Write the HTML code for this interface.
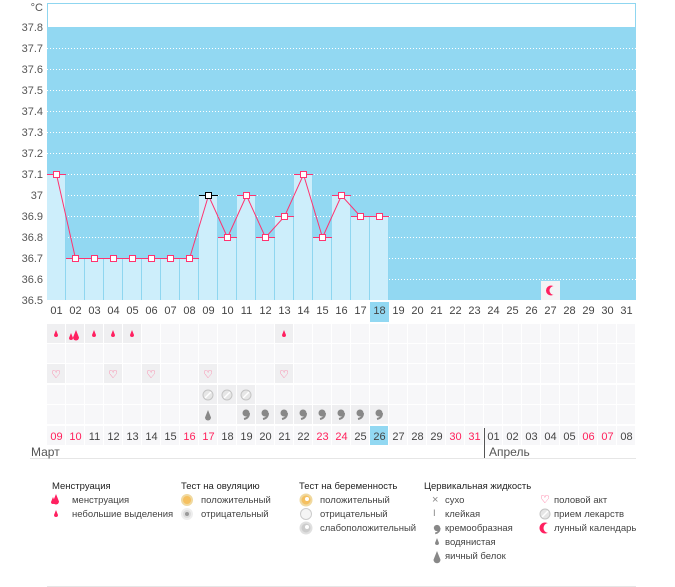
<!DOCTYPE html>
<html><head><meta charset="utf-8"><style>
body{margin:0;width:675px;height:587px;background:#fff;font-family:"Liberation Sans","DejaVu Sans",sans-serif;position:relative;overflow:hidden}
.yl{position:absolute;right:632px;font-size:11px;color:#555;text-align:right}
.row{position:absolute;left:47px;display:flex;font-size:11px;color:#444}
.row span{width:19px;text-align:center}
.r{color:#ff1f5a}
.t{position:absolute;font-size:9.5px;color:#444;white-space:nowrap;line-height:12px}
.h{color:#222}
</style></head><body>
<svg width="675" height="587" style="position:absolute;left:0;top:0" id="s">
<rect x="47.5" y="3.5" width="588" height="296" fill="#fff" stroke="#8fd6f0"/>
<rect x="47" y="27" width="589" height="273" fill="#92d8f2"/>
<g id="g"></g>
</svg>
<div class="yl" style="top:2px">°C</div>
<div class="yl" style="top:22px">37.8</div><div class="yl" style="top:43px">37.7</div><div class="yl" style="top:64px">37.6</div><div class="yl" style="top:85px">37.5</div><div class="yl" style="top:106px">37.4</div><div class="yl" style="top:127px">37.3</div><div class="yl" style="top:148px">37.2</div><div class="yl" style="top:169px">37.1</div><div class="yl" style="top:190px">37</div><div class="yl" style="top:211px">36.9</div><div class="yl" style="top:232px">36.8</div><div class="yl" style="top:253px">36.7</div><div class="yl" style="top:274px">36.6</div><div class="yl" style="top:295px">36.5</div>
<div class="row" style="top:305px"><span>01</span><span>02</span><span>03</span><span>04</span><span>05</span><span>06</span><span>07</span><span>08</span><span>09</span><span>10</span><span>11</span><span>12</span><span>13</span><span>14</span><span>15</span><span>16</span><span>17</span><span>18</span><span>19</span><span>20</span><span>21</span><span>22</span><span>23</span><span>24</span><span>25</span><span>26</span><span>27</span><span>28</span><span>29</span><span>30</span><span>31</span></div>
<div class="row" style="top:431px"><span class="r">09</span><span class="r">10</span><span>11</span><span>12</span><span>13</span><span>14</span><span>15</span><span class="r">16</span><span class="r">17</span><span>18</span><span>19</span><span>20</span><span>21</span><span>22</span><span class="r">23</span><span class="r">24</span><span>25</span><span>26</span><span>27</span><span>28</span><span>29</span><span class="r">30</span><span class="r">31</span><span>01</span><span>02</span><span>03</span><span>04</span><span>05</span><span class="r">06</span><span class="r">07</span><span>08</span></div>
<div style="position:absolute;left:31px;top:445px;font-size:12px;color:#555">Март</div>
<div style="position:absolute;left:489px;top:445px;font-size:12px;color:#555">Апрель</div>

<div class="t h" style="left:52px;top:481px">Менструация</div>
<div class="t" style="left:72px;top:495px">менструация</div>
<div class="t" style="left:72px;top:509px">небольшие выделения</div>
<div class="t h" style="left:181px;top:481px">Тест на овуляцию</div>
<div class="t" style="left:201px;top:495px">положительный</div>
<div class="t" style="left:201px;top:509px">отрицательный</div>
<div class="t h" style="left:299px;top:481px">Тест на беременность</div>
<div class="t" style="left:320px;top:495px">положительный</div>
<div class="t" style="left:320px;top:509px">отрицательный</div>
<div class="t" style="left:320px;top:523px">слабоположительный</div>
<div class="t h" style="left:424px;top:481px">Цервикальная жидкость</div>
<div class="t" style="left:445px;top:495px">сухо</div>
<div class="t" style="left:445px;top:509px">клейкая</div>
<div class="t" style="left:445px;top:523px">кремообразная</div>
<div class="t" style="left:445px;top:537px">водянистая</div>
<div class="t" style="left:445px;top:551px">яичный белок</div>
<div class="t" style="left:554px;top:495px">половой акт</div>
<div class="t" style="left:554px;top:509px">прием лекарств</div>
<div class="t" style="left:554px;top:523px">лунный календарь</div>
<div class="t" style="left:432px;top:494px;color:#888;font-size:11px">×</div>
<div class="t" style="left:433px;top:508px;color:#888">I</div>
<div class="t" style="left:540px;top:494px;color:#ff3370;font-size:11px">&#9825;</div>

<script>
var g=document.getElementById('g'),h='';
function Y(v){return 27+(37.8-v)*210}
for(var k=1;k<13;k++){h+='<line x1="47" x2="636" y1="'+(27+21*k+.5)+'" y2="'+(27+21*k+.5)+'" stroke="#fff" stroke-dasharray="1,2"/>'}
var v=[37.1,36.7,36.7,36.7,36.7,36.7,36.7,36.7,37.0,36.8,37.0,36.8,36.9,37.1,36.8,37.0,36.9,36.9];
var pts=[];
for(var i=0;i<v.length;i++){var x=47+19*i,y=Y(v[i]);h+='<rect x="'+x+'" y="'+y+'" width="19" height="'+(300-y)+'" fill="#cdeefb"/><line x1="'+(x+18.5)+'" x2="'+(x+18.5)+'" y1="'+y+'" y2="300" stroke="#8fd6f0"/><line x1="'+x+'" x2="'+(x+19)+'" y1="'+(y+.5)+'" y2="'+(y+.5)+'" stroke="'+(i==8?'#000':'#ff3370')+'"/>';pts.push((x+9.5)+','+(y+.5));}
h+='<polyline points="'+pts.join(' ')+'" fill="none" stroke="#ff3370"/>';
for(i=0;i<v.length;i++){var p=pts[i].split(',');h+='<rect x="'+(p[0]-3)+'" y="'+(p[1]-3)+'" width="6" height="6" fill="#fff" stroke="'+(i==8?'#000':'#ff3370')+'"/>'}
h+='<rect x="370" y="302" width="19" height="20" fill="#92d8f2"/>';
h+='<rect x="541" y="281" width="19" height="19" fill="#f3f3f5"/><circle cx="551" cy="290.5" r="5" fill="#ff2060"/><circle cx="554" cy="290.5" r="4.5" fill="#f3f3f5"/>';
var rows=[324,344,364,385,405,426];
var filled={0:[0,1,2,3,4,12],2:[0,3,5,8,12],3:[8,9,10],4:[8,10,11,12,13,14,15,16,17]};
for(var r=0;r<6;r++)for(i=0;i<31;i++){var c=(filled[r]&&filled[r].indexOf(i)>=0)?'#efeff1':'#f7f7f9';if(r==5&&i==17)c='#92d8f2';h+='<rect x="'+(47+19*i)+'" y="'+rows[r]+'" width="18" height="19" fill="'+c+'"/>'}
function cx(i){return 47+19*i+9}
function drop(x,y,s,c){return '<path d="M'+x+' '+y+' l'+s+' '+(2.5*s)+' a'+s+' '+s+' 0 1 1 -'+(2*s)+' 0z" fill="'+c+'"/>'}
[0,2,3,4,12].forEach(function(i){h+=drop(cx(i),330,2,'#ff2060')});
h+=drop(76,330,3,'#ff2060')+drop(71,333,2,'#ff2060');
[0,3,5,8,12].forEach(function(i){h+='<text x="'+cx(i)+'" y="378" font-size="11" fill="#ff4d80" text-anchor="middle">&#9825;</text>'});
[8,9,10].forEach(function(i){h+='<circle cx="'+cx(i)+'" cy="395" r="5" fill="#e6e6e6" stroke="#c4c4c4"/><line x1="'+(cx(i)-3)+'" y1="398" x2="'+(cx(i)+3)+'" y2="392" stroke="#fff" stroke-width="1.5"/>'});
h+=drop(cx(8),410,3,'#888');
function comma(x,y,s){return '<circle cx="'+x+'" cy="'+y+'" r="'+(3.5*s)+'" fill="#888"/><path d="M'+(x+3*s)+' '+y+' q0 '+(5*s)+' -'+(5*s)+' '+(6*s)+'" stroke="#888" stroke-width="'+(2*s)+'" fill="none"/>'}
[10,11,12,13,14,15,16,17].forEach(function(i){h+=comma(cx(i),413,1)});
h+='<line x1="484.5" x2="484.5" y1="428" y2="458" stroke="#555"/>';
h+='<line x1="30" x2="636" y1="458.5" y2="458.5" stroke="#e6e6e6"/><line x1="47" x2="636" y1="586.5" y2="586.5" stroke="#e6e6e6"/>';
h+=drop(56,494,3,'#ff2060')+drop(53,497,2,'#ff2060')+drop(56,510,2,'#ff2060');
h+='<circle cx="187" cy="500" r="5" fill="#f5c060" stroke="#f0d9a0" stroke-width="2"/>';
h+='<circle cx="187" cy="514" r="5" fill="#ddd" stroke="#eee" stroke-width="2"/><circle cx="187" cy="514" r="2" fill="#999"/>';
h+='<circle cx="306" cy="500" r="5.5" fill="#f5c060" stroke="#f0d9a0" stroke-width="2"/><circle cx="307" cy="499" r="2" fill="#fff"/>';
h+='<circle cx="306" cy="514" r="5.5" fill="#f5f5f5" stroke="#ccc"/>';
h+='<circle cx="306" cy="528" r="5.5" fill="#ccc" stroke="#e0e0e0" stroke-width="2"/><circle cx="307" cy="527" r="2" fill="#fff"/>';
h+=comma(437,528,0.9)+drop(437,538,2,'#888')+drop(437,551,3.5,'#888');
h+='<circle cx="545" cy="514" r="5" fill="#e6e6e6" stroke="#c4c4c4"/><line x1="542" y1="517" x2="548" y2="511" stroke="#fff" stroke-width="1.5"/>';
h+='<circle cx="545" cy="528" r="5.5" fill="#ff2060"/><circle cx="548.5" cy="528" r="5" fill="#fff"/>';
g.innerHTML=h;
</script>
</body></html>
